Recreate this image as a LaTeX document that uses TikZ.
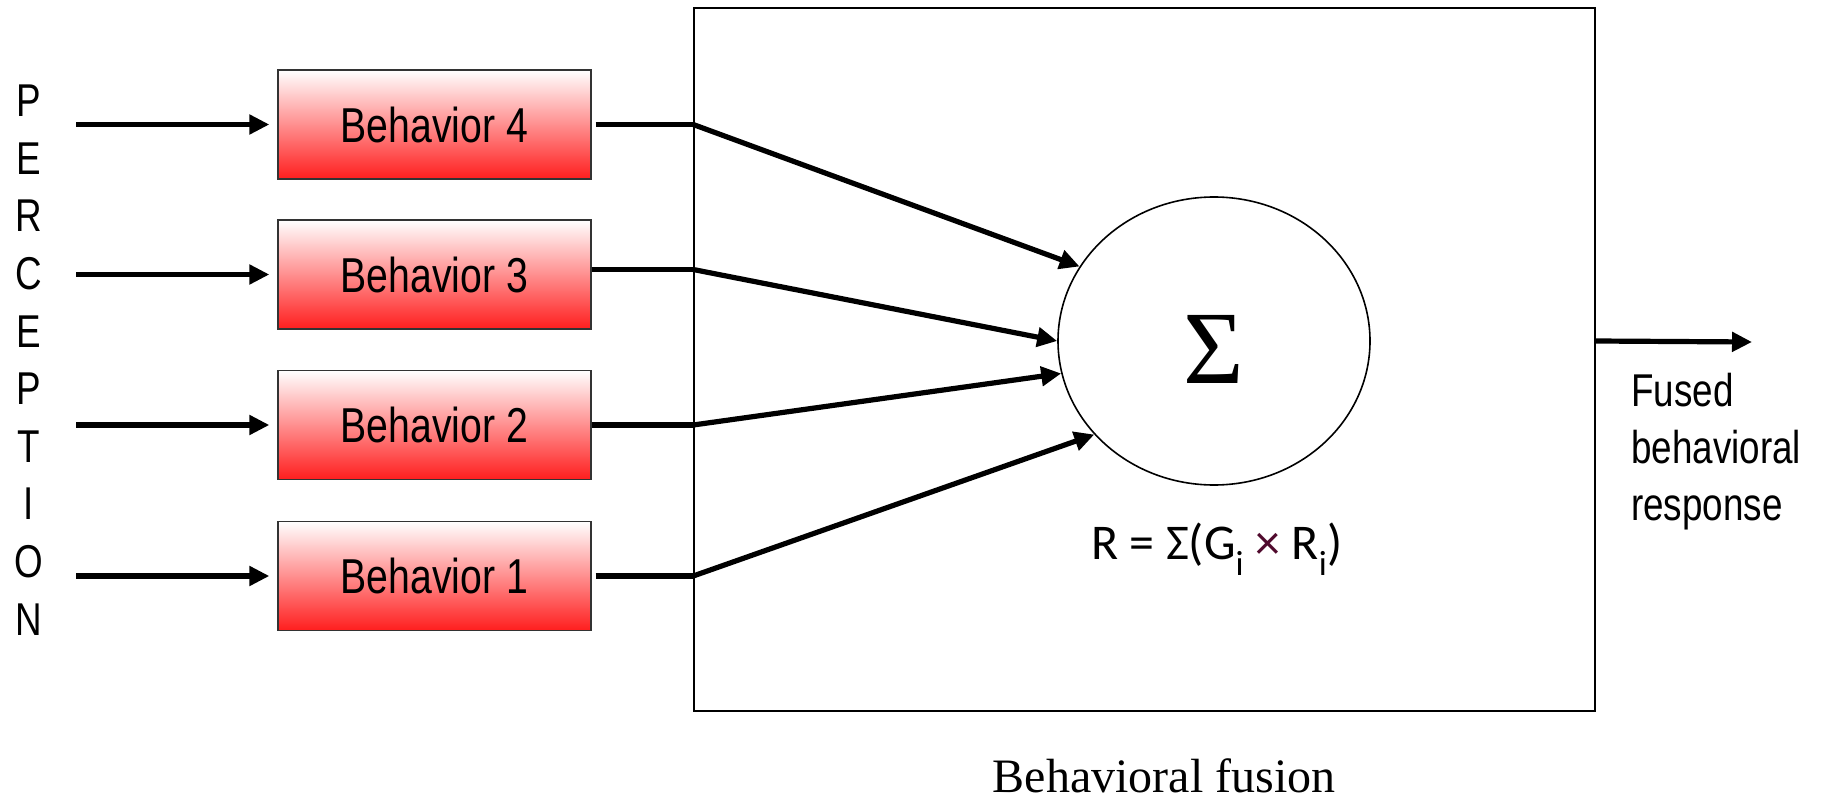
\documentclass[tikz,border=0pt]{standalone}
\usepackage{fontspec}
\setmainfont{Liberation Serif}
\newfontfamily\narrowfont[FakeStretch=0.8]{Liberation Sans}
\newfontfamily\calfont{Carlito}
\usetikzlibrary{arrows.meta,shapes.geometric,calc}
\definecolor{boxred}{RGB}{255,30,30}
\definecolor{maroonx}{RGB}{80,10,45}
\begin{document}
\begin{tikzpicture}[x=1pt,y=-1pt,
  behbox/.style={draw=black!80, line width=1.3pt, top color=white, bottom color=boxred,
    minimum width=313pt, minimum height=109pt, inner sep=0pt,
    font=\narrowfont\fontsize{49}{56}\selectfont},
  thickline/.style={line width=5.2pt},
  thickarrow/.style={line width=5.2pt, -{Triangle[length=20pt,width=19pt]}},
  inarrow/.style={thickarrow, shorten >=8pt},
]
\useasboundingbox (0,0) rectangle (1825,802);

% fusion box and summation
\node[draw, line width=1.6pt, minimum width=901pt, minimum height=703pt, inner sep=0pt] (fusion) at (1144.5,359.5) {};
\node[ellipse, draw, line width=1.6pt, minimum width=312pt, minimum height=288pt, inner sep=0pt] (sum) at (1214,341) {};
\node[font=\fontsize{104}{110}\selectfont, inner sep=0pt] (sigma) at (1214,349) {Σ};

% perception label
\node[align=center, font=\narrowfont\fontsize{46}{57.6}\selectfont, inner sep=0pt] (perc) at (29,360)
  {P\\E\\R\\C\\E\\P\\T\\I\\O\\N};

% behaviour boxes
\node[behbox] (b4) at (434.5,124.5) {Behavior 4};
\node[behbox] (b3) at (434.5,274.5) {Behavior 3};
\node[behbox] (b2) at (434.5,425) {Behavior 2};
\node[behbox] (b1) at (434.5,576) {Behavior 1};

% input arrows
\coordinate (in4) at (76,124.5);
\coordinate (in3) at (76,274.5);
\coordinate (in2) at (76,425);
\coordinate (in1) at (76,576);
\draw[inarrow] (in4) -- (b4.west);
\draw[inarrow] (in3) -- (b3.west);
\draw[inarrow] (in2) -- (b2.west);
\draw[inarrow] (in1) -- (b1.west);

% box to fusion box
\coordinate (j4) at (fusion.west |- b4.east);
\coordinate (j3) at ([yshift=5pt]fusion.west |- b3.east);
\coordinate (j2) at (fusion.west |- b2.east);
\coordinate (j1) at (fusion.west |- b1.east);
\draw[thickline, shorten <=4pt] (b4.east) -- (j4);
\draw[thickline] (b3.east |- j3) -- (j3);
\draw[thickline] (b2.east) -- (j2);
\draw[thickline, shorten <=4pt] (b1.east) -- (j1);

% to summation
\draw[thickarrow] (j4) -- (sum.151);
\draw[thickarrow] (j3) -- (sum.180);
\draw[thickarrow] (j2) -- (sum.192);
\draw[thickarrow] (j1) -- (sum.218);

% formula
\node[font=\calfont\fontsize{50}{56}\selectfont, inner sep=0pt] (formula) at (1217,549)
  {R = Σ(G\textsubscript{i} {\color{maroonx}×} R\textsubscript{i})};

% output
\coordinate (outstart) at (fusion.east |- sum.east);
\coordinate (outend) at (1752,342);
\draw[thickarrow] (outstart) -- (outend);
\node[anchor=west, align=left, font=\narrowfont\fontsize{46}{57}\selectfont, inner sep=0pt] (fused) at (1631,452)
  {Fused\\behavioral\\response};

% caption
\node[font=\fontsize{48}{56}\selectfont, inner sep=0pt] (caption) at (1164,776) {Behavioral fusion};
\end{tikzpicture}
\end{document}
